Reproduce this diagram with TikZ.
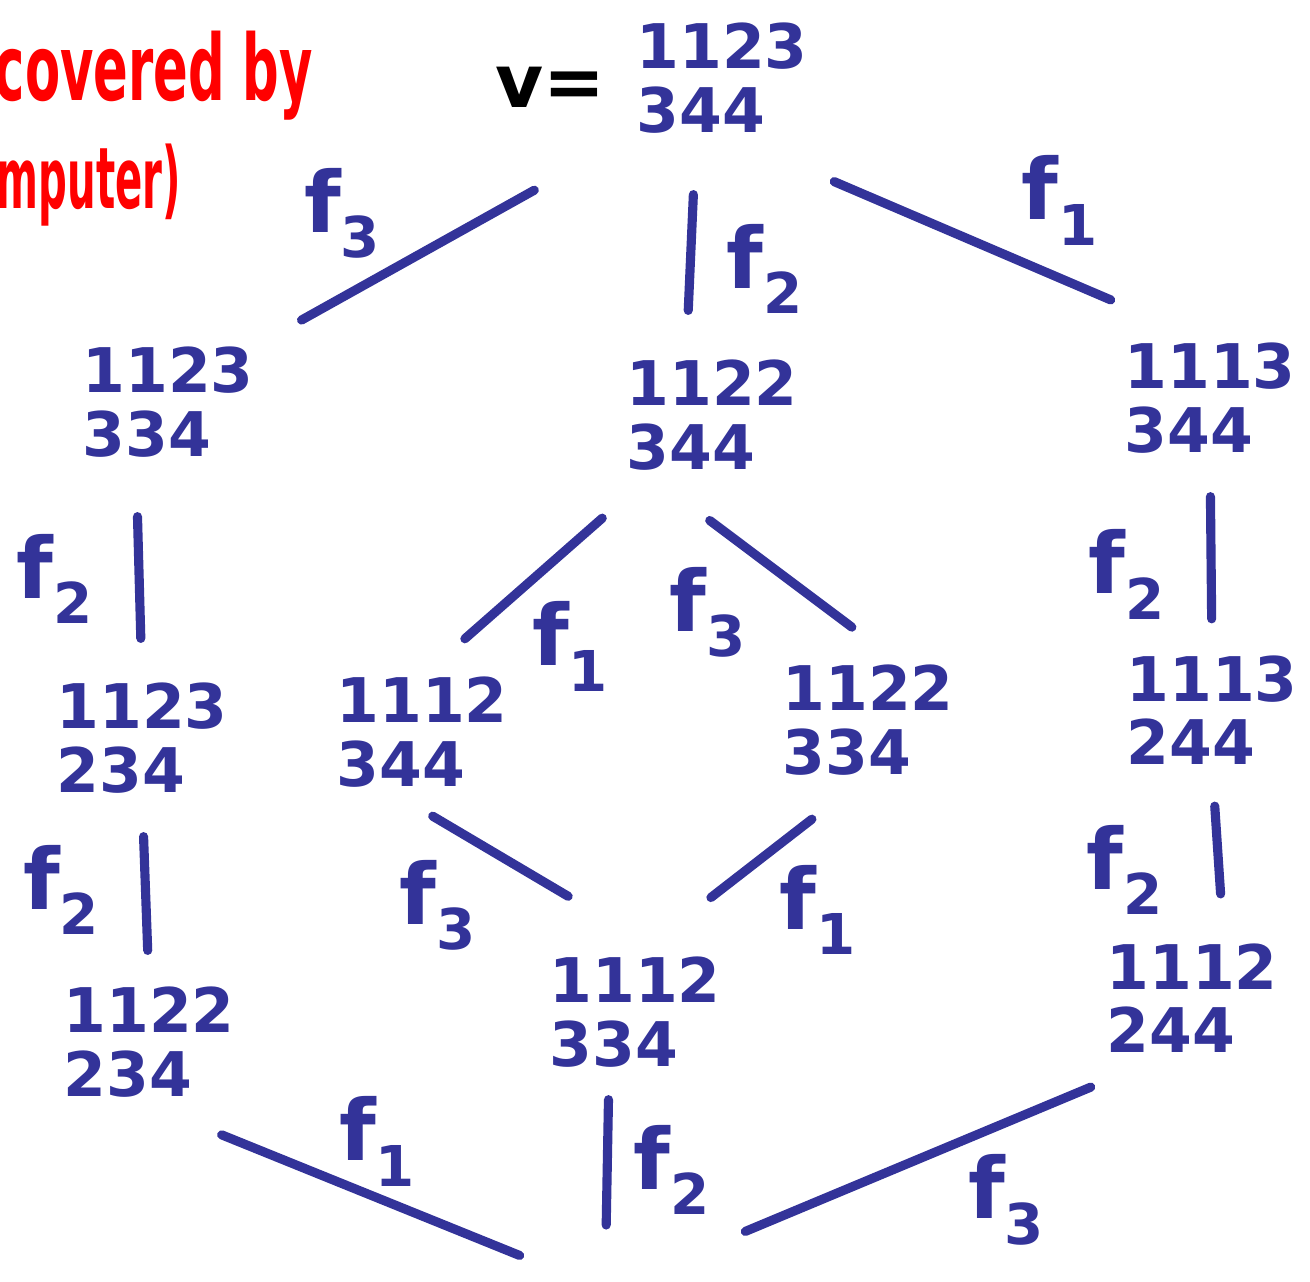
\documentclass[tikz,border=0pt]{standalone}
\usepackage{fontspec}
\setmainfont{DejaVu Sans}
\usepackage{tikz}
\definecolor{penblue}{RGB}{51,51,153}
\definecolor{penred}{RGB}{255,0,0}
\newcommand{\flab}[1]{f\raisebox{-0.3em}{\fontsize{16}{16}\selectfont #1}}
\tikzset{
  tab/.style={inner sep=0pt, align=left, text=penblue,
    font=\fontsize{17.5}{18}\selectfont\bfseries},
  lab/.style={text=penblue, inner sep=2pt,
    font=\fontsize{24}{24}\selectfont\bfseries},
  pen/.style={draw=penblue, line width=2.6pt, line cap=round},
  note/.style={text=penred, inner sep=0pt, font=\bfseries}
}

\begin{document}
\begin{tikzpicture}[x=0.01cm, y=-0.01cm]
\useasboundingbox (0,0) rectangle (1310,1281);
% red remark, cut at the left edge
\node[note, anchor=base west, font=\fontsize{26}{26}\selectfont\bfseries] (remark) at (-6,100) {\scalebox{0.56}[1]{covered by}};
\node[note, anchor=base west, font=\fontsize{22}{22}\selectfont\bfseries] (remark2) at (-4,208) {\scalebox{0.52}[1.1]{mputer)}};

\node[font=\fontsize{21}{21}\selectfont\bfseries, inner sep=0pt] (v) at (550,87) {v=};
\node[tab] (top) at (722,78) {1123\\344};

\node[tab] (l1) at (168,402) {1123\\334};
\node[tab] (l2) at (142,738) {1123\\234};
\node[tab] (l3) at (149,1042) {1122\\234};

\node[tab] (m1) at (712,415) {1122\\344};
\node[tab] (m2) at (422,732) {1112\\344};
\node[tab] (m3) at (868,720) {1122\\334};
\node[tab] (m4) at (635,1012) {1112\\334};

\node[tab] (r1) at (1210,398) {1113\\344};
\node[tab] (r2) at (1212,710) {1113\\244};
\node[tab] (r3) at (1192,998) {1112\\244};

\coordinate (bot) at (605,1290);

\draw[pen, shorten <=1.16cm, shorten >=0.54cm] (top.south west) -- node[lab, pos=.64, above left] {\flab{3}} (l1.north east);
\draw[pen, shorten <=0.61cm, shorten >=0.49cm] (top.245) -- node[lab, pos=.6, right=0.25cm] {\flab{2}} (m1.115);
\draw[pen, shorten <=1.22cm, shorten >=1.08cm] (top.south) -- node[lab, pos=.59, above right] {\flab{1}} (r1.north);

\draw[pen, shorten <=0.59cm, shorten >=0.44cm] (l1.240) -- node[lab, pos=.54, left=0.35cm] {\flab{2}} (l2.north);
\draw[pen, shorten <=0.43cm, shorten >=0.36cm] (l2.south) -- node[lab, pos=.5, left=0.35cm] {\flab{2}} (l3.north);

\draw[pen, shorten <=0.72cm, shorten >=0.57cm] (m1.225) -- node[lab, pos=.58, below right] {\flab{1}} (m2.north);
\draw[pen, shorten <=0.83cm, shorten >=0.62cm] (m1.219) -- node[lab, pos=.44, below left] {\flab{3}} (m3.59);
\draw[pen, shorten <=0.56cm, shorten >=1.18cm] (m2.236) -- node[lab, pos=.36, below left] {\flab{3}} (m4.58);
\draw[pen, shorten <=0.71cm, shorten >=0.96cm] (m3.south) -- node[lab, pos=.43, below right] {\flab{1}} (m4.north);

\draw[pen, shorten <=0.43cm, shorten >=0.36cm] (r1.south) -- node[lab, pos=.6, left=0.35cm] {\flab{2}} (r2.north);
\draw[pen, shorten <=0.41cm, shorten >=0.49cm] (r2.south) -- node[lab, pos=.59, left=0.45cm] {\flab{2}} (r3.60);

\draw[pen, shorten <=0.99cm, shorten >=0.92cm] (l3.251) -- node[lab, pos=.52, above] {\flab{1}} (bot);
\draw[pen, shorten <=0.32cm, shorten >=0.65cm] (m4.245) -- node[lab, pos=.46, right=0.15cm] {\flab{2}} (bot);
\draw[pen, shorten <=0.88cm, shorten >=1.52cm] (r3.250) -- node[lab, pos=.38, below right] {\flab{3}} (bot);
\end{tikzpicture}
\end{document}
